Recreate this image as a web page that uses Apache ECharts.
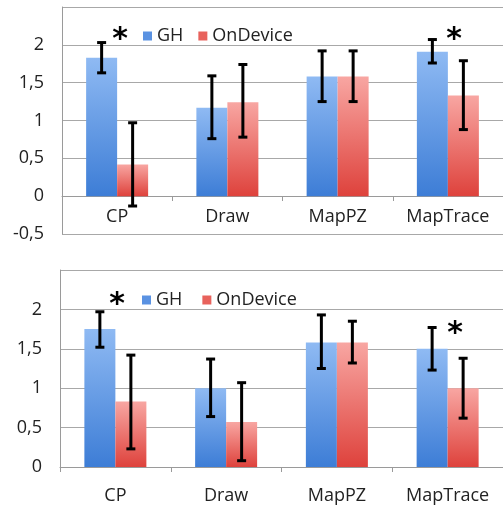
<!DOCTYPE html>
<html>
<head>
<meta charset="utf-8">
<script src="https://cdn.jsdelivr.net/npm/echarts@6/dist/echarts.min.js"></script>
<style>
  html, body { margin: 0; padding: 0; background: #fff; }
  #chart { width: 503px; height: 506px; }
</style>
</head>
<body>
<div id="chart"></div>
<script>
// categories and tick labels
const categories = ['CP', 'Draw', 'MapPZ', 'MapTrace'];
const seriesNames = ['GH', 'OnDevice'];

// top chart
const topGH = [1.83, 1.17, 1.58, 1.91];
const topGHLo = [1.63, 0.76, 1.25, 1.76];
const topGHHi = [2.03, 1.59, 1.92, 2.07];
const topOD = [0.42, 1.24, 1.58, 1.33];
const topODLo = [-0.13, 0.78, 1.25, 0.88];
const topODHi = [0.97, 1.74, 1.92, 1.79];

// bottom chart
const botGH = [1.75, 1.0, 1.58, 1.5];
const botGHLo = [1.52, 0.64, 1.25, 1.23];
const botGHHi = [1.97, 1.37, 1.93, 1.77];
const botOD = [0.83, 0.57, 1.58, 1.0];
const botODLo = [0.23, 0.08, 1.32, 0.62];
const botODHi = [1.42, 1.07, 1.85, 1.38];

const FONT = 'Open Sans';
const FONT_SIZE = 18;
const BAR_W = 31;

const blueFill = new echarts.graphic.LinearGradient(0, 0, 0, 1, [
    { offset: 0, color: '#8fbaf3' },
    { offset: 1, color: '#3d7dd6' }
]);
const redFill = new echarts.graphic.LinearGradient(0, 0, 0, 1, [
    { offset: 0, color: '#f8a6a2' },
    { offset: 1, color: '#de423c' }
]);

function toPairs (lo, hi) {
    return lo.map((v, i) => [i, v, hi[i]]);
}

// draws a black error bar with caps, shifted to the bar's side
function errRender (side) {
    return function (params, api) {
        const idx = api.value(0);
        const a = api.coord([idx, api.value(1)]);
        const b = api.coord([idx, api.value(2)]);
        const x = a[0] + side * BAR_W / 2;
        const style = { stroke: '#000', lineWidth: 3 };
        const cap = 4.5;
        return {
            type: 'group',
            children: [
                { type: 'line', shape: { x1: x, y1: a[1], x2: x, y2: b[1] }, style: style },
                { type: 'line', shape: { x1: x - cap, y1: a[1], x2: x + cap, y2: a[1] }, style: style },
                { type: 'line', shape: { x1: x - cap, y1: b[1], x2: x + cap, y2: b[1] }, style: style }
            ]
        };
    };
}

function valueAxis (gridIndex, min) {
    return {
        type: 'value',
        gridIndex: gridIndex,
        min: min,
        max: 2.5,
        interval: 0.5,
        axisLine: { show: true, lineStyle: { color: '#9a9a9a', width: 1 } },
        axisTick: { show: false },
        splitLine: { lineStyle: { color: '#a8a8a8', width: 1 } },
        axisLabel: {
            margin: 18,
            color: '#222',
            fontFamily: FONT,
            fontSize: FONT_SIZE,
            formatter: v => v === 2.5 ? '' : String(v).replace('.', ',')
        }
    };
}

// offset moves the axis up onto the zero line of the top chart
function catAxis (gridIndex, offset, labelMargin) {
    return {
        type: 'category',
        gridIndex: gridIndex,
        data: categories,
        position: 'bottom',
        offset: offset,
        axisLine: { onZero: false, lineStyle: { color: '#9a9a9a', width: 1 } },
        axisTick: { show: true, length: 5, lineStyle: { color: '#9a9a9a' } },
        axisLabel: { margin: labelMargin, color: '#222', fontFamily: FONT, fontSize: FONT_SIZE }
    };
}

function barSeries (name, data, fill, axisIdx) {
    return {
        name: name,
        type: 'bar',
        xAxisIndex: axisIdx,
        yAxisIndex: axisIdx,
        data: data,
        barWidth: BAR_W,
        barGap: '0%',
        itemStyle: { color: fill },
        emphasis: { disabled: true }
    };
}

function errSeries (lo, hi, side, axisIdx) {
    return {
        type: 'custom',
        xAxisIndex: axisIdx,
        yAxisIndex: axisIdx,
        data: toPairs(lo, hi),
        encode: { x: 0, y: [1, 2] },
        renderItem: errRender(side),
        z: 5
    };
}

function legend (top, left, gap) {
    return {
        top: top,
        left: left,
        padding: 0,
        data: [
            { name: seriesNames[0], itemStyle: { color: '#5a92e2' } },
            { name: seriesNames[1], itemStyle: { color: '#e8625c' } }
        ],
        icon: 'rect',
        itemWidth: 9,
        itemHeight: 9,
        itemGap: gap,
        textStyle: { fontFamily: FONT, fontSize: FONT_SIZE, color: '#222' },
        selectedMode: false
    };
}

function star (x, y) {
    return {
        type: 'text',
        x: x,
        y: y,
        style: { text: '*', font: 'bold 30px "DejaVu Sans"', fill: '#000', align: 'center', verticalAlign: 'middle' }
    };
}

const chart = echarts.init(document.getElementById('chart'), null, { renderer: 'canvas' });

const option = {
    animation: false,
    backgroundColor: '#fff',
    grid: [
        { left: 62, top: 7, width: 441, height: 227 },
        { left: 60, top: 270, width: 443, height: 197 }
    ],
    legend: [legend(27, 143, 15), legend(291, 142, 20)],
    xAxis: [catAxis(0, -38, 12), catAxis(1, 0, 20)],
    yAxis: [valueAxis(0, -0.5), valueAxis(1, 0)],
    series: [
        barSeries('GH', topGH, blueFill, 0),
        barSeries('OnDevice', topOD, redFill, 0),
        errSeries(topGHLo, topGHHi, -1, 0),
        errSeries(topODLo, topODHi, 1, 0),
        barSeries('GH', botGH, blueFill, 1),
        barSeries('OnDevice', botOD, redFill, 1),
        errSeries(botGHLo, botGHHi, -1, 1),
        errSeries(botODLo, botODHi, 1, 1)
    ],
    graphic: [
        star(120, 40),
        star(454, 40),
        star(117, 305),
        star(455, 334)
    ]
};

chart.setOption(option);
</script>
</body>
</html>
